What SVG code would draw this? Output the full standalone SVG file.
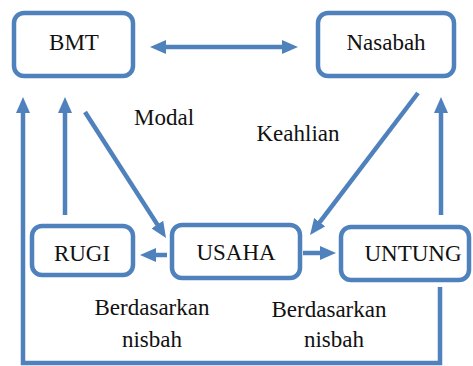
<svg xmlns="http://www.w3.org/2000/svg" width="473" height="366" viewBox="0 0 473 366">
<style>
.box{fill:#fff;stroke:#4F81BD;stroke-width:4.5}
.t{font-family:'Liberation Serif','Times New Roman',serif;font-size:23px;fill:#111;text-anchor:middle}
.c{fill:none;stroke:#4F81BD;stroke-width:4.5;marker-end:url(#ah)}
</style>
<defs>
<marker id="ah" viewBox="0 0 16 14" refX="4" refY="7" markerWidth="16" markerHeight="14" markerUnits="userSpaceOnUse" orient="auto-start-reverse">
<path d="M0,0 L16,7 L0,14 Z" fill="#4F81BD"/>
</marker>
</defs>
<g id="connectors">
<line class="c" x1="162" y1="47" x2="286" y2="47" marker-start="url(#ah)"/>
<line class="c" x1="65" y1="215" x2="65" y2="109"/>
<polyline class="c" points="440,287 440,363 23,363 23,109"/>
<line class="c" x1="441" y1="215" x2="441" y2="109"/>
<line class="c" x1="85" y1="112" x2="159.5" y2="227.9"/>
<line class="c" x1="418" y1="93" x2="317.3" y2="225.4"/>
<line class="c" x1="303" y1="253" x2="324" y2="253"/>
<line class="c" x1="167" y1="255" x2="152" y2="255"/>
</g>
<g id="bmt"><rect class="box" x="14" y="13" width="119" height="63" rx="10"/><text class="t" x="74" y="50">BMT</text></g>
<g id="nasabah"><rect class="box" x="318" y="13" width="136" height="63" rx="10"/><text class="t" x="386" y="50">Nasabah</text></g>
<g id="rugi"><rect class="box" x="32" y="226" width="101" height="49" rx="10"/><text class="t" x="82" y="261">RUGI</text></g>
<g id="usaha"><rect class="box" x="172" y="225" width="128" height="53" rx="10"/><text class="t" x="236" y="260">USAHA</text></g>
<g id="untung"><rect class="box" x="341" y="227" width="128" height="53" rx="10"/><text class="t" x="413" y="261">UNTUNG</text></g>
<g id="labels">
<text class="t" x="164" y="125">Modal</text>
<text class="t" x="298" y="141">Keahlian</text>
<text class="t" x="152" y="315">Berdasarkan</text>
<text class="t" x="152" y="347">nisbah</text>
<text class="t" x="329" y="317">Berdasarkan</text>
<text class="t" x="334" y="347">nisbah</text>
</g>
</svg>
